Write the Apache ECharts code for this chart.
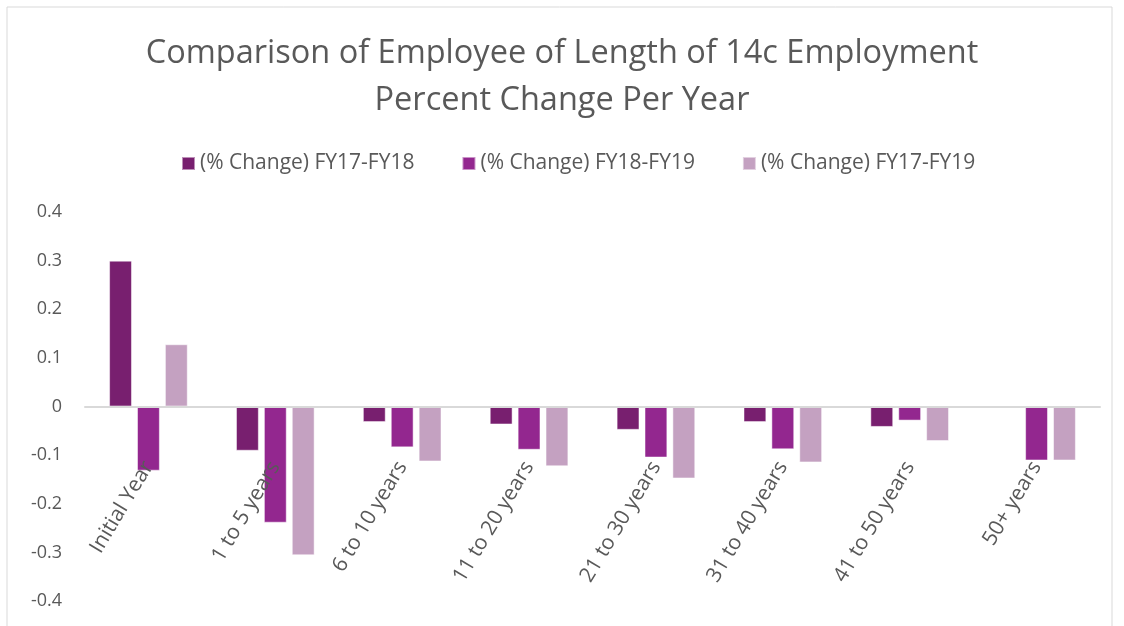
<!DOCTYPE html>
<html>
<head>
<meta charset="utf-8">
<script src="https://cdn.jsdelivr.net/npm/echarts@6/dist/echarts.min.js"></script>
<style>
  html, body { margin: 0; padding: 0; background: #fff; }
  #chart { width: 1124px; height: 626px; }
</style>
</head>
<body>
<div id="chart"></div>
<script>
const categories = ['Initial Year', '1 to 5 years', '6 to 10 years', '11 to 20 years',
  '21 to 30 years', '31 to 40 years', '41 to 50 years', '50+ years'];
const seriesNames = ['(% Change) FY17-FY18', '(% Change) FY18-FY19', '(% Change) FY17-FY19'];
const fy17to18 = [0.30, -0.091, -0.032, -0.037, -0.048, -0.032, -0.042, 0];
const fy18to19 = [-0.132, -0.239, -0.084, -0.089, -0.105, -0.088, -0.029, -0.111];
const fy17to19 = [0.128, -0.306, -0.113, -0.123, -0.148, -0.115, -0.071, -0.111];
const colors = ['#781f6f', '#93278f', '#c4a1c1'];

const myChart = echarts.init(document.getElementById('chart'), null, { renderer: 'canvas' });
const font = 'Open Sans';

const option = {
  animation: false,
  color: colors,
  title: {
    text: 'Comparison of Employee of Length of 14c Employment\nPercent Change Per Year',
    left: 'center',
    top: 25,
    textStyle: { fontFamily: font, fontSize: 32.5, fontWeight: 'normal', color: '#595959', lineHeight: 47 },
  },
  legend: {
    top: 148,
    left: 176,
    itemWidth: 13,
    itemHeight: 13,
    itemGap: 47,
    icon: 'rect',
    textStyle: { fontFamily: font, fontSize: 21, color: '#595959' },
    data: seriesNames,
  },
  graphic: [{
    type: 'polyline',
    shape: { points: [[7, 640], [7, 7], [1112, 7], [1112, 640]] },
    style: { stroke: '#d9d9d9', lineWidth: 1, fill: null },
    silent: true,
  }],
  grid: { left: 85, right: 24, top: 212, bottom: 25, containLabel: false, outerBoundsMode: 'none' },
  xAxis: {
    type: 'category',
    data: categories,
    z: 10,
    axisLine: { onZero: true, lineStyle: { color: '#d9d9d9', width: 2 } },
    axisTick: { show: false },
    axisLabel: {
      rotate: 59,
      // labels sit at the grid bottom, pull them up under the zero line
      margin: -138,
      interval: 0,
      fontFamily: font,
      fontSize: 21,
      color: '#595959',
    },
  },
  yAxis: {
    type: 'value',
    min: -0.4,
    max: 0.4,
    interval: 0.1,
    axisLine: { show: false },
    axisTick: { show: false },
    splitLine: { show: false },
    axisLabel: {
      margin: 23,
      fontFamily: font,
      fontSize: 18,
      color: '#595959',
      formatter: (v) => (Math.abs(v) < 1e-9 ? '0' : v.toFixed(1)),
    },
  },
  series: [fy17to18, fy18to19, fy17to19].map((vals, i) => ({
    name: seriesNames[i],
    type: 'bar',
    data: vals,
    barGap: '22%',
    barCategoryGap: '38%',
    itemStyle: { borderColor: 'rgba(255,255,255,0.5)', borderWidth: 1 },
  })),
};

myChart.setOption(option);
</script>
</body>
</html>
